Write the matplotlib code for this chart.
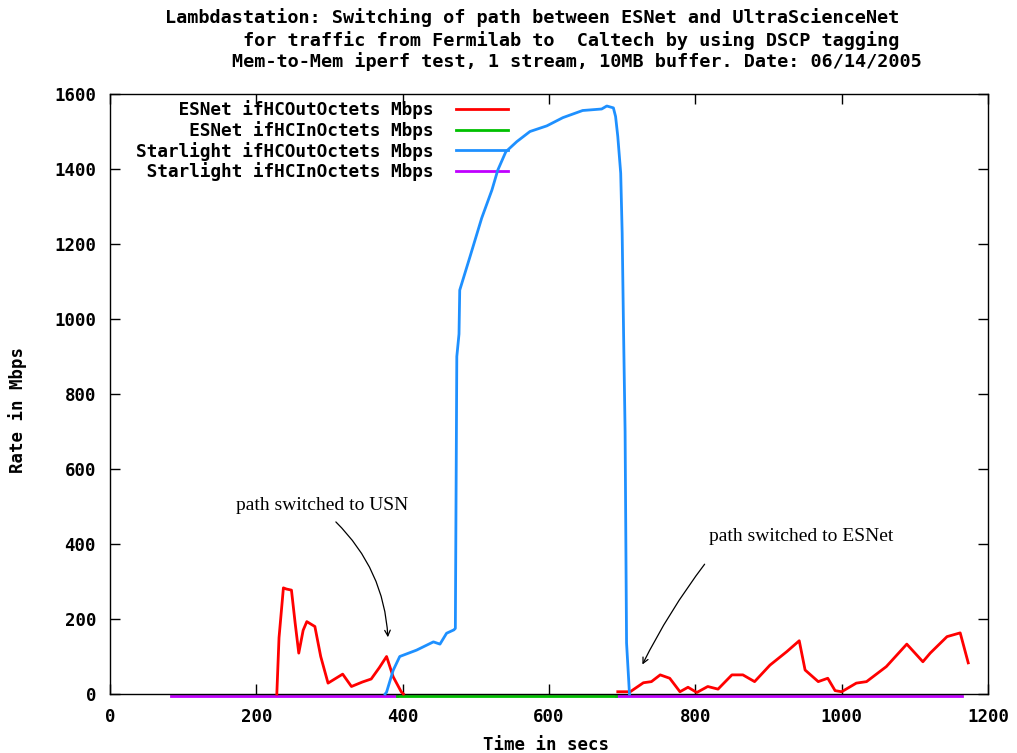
import numpy as np
import matplotlib
matplotlib.use("Agg")
import matplotlib.pyplot as plt
import matplotlib.transforms as mtransforms

# Values (time in secs, rate in Mbps)
# nan marks the stretch where a counter sits at zero under the other traces
esnet_out_t = [228, 231, 237, 241, 248, 253, 258, 264, 269, 280, 288, 298, 318, 330, 345, 357,
               368, 378, 387, 398, 401, 550, 694, 696, 711, 720, 729, 740, 752, 765, 779, 790,
               802, 817, 831, 850, 865, 881, 902, 925, 942, 950, 968, 981, 991, 1000, 1020,
               1034, 1061, 1089, 1111, 1121, 1144, 1162, 1173]
esnet_out_v = [0, 150, 283, 280, 277, 190, 109, 170, 193, 180, 100, 29, 53, 20, 32, 40,
               70, 100, 46, 6, 0, np.nan, 6, 6, 6, 18, 30, 33, 51, 42, 6, 18,
               4, 20, 13, 51, 51, 33, 77, 113, 142, 64, 33, 42, 9, 6, 29,
               33, 73, 133, 86, 109, 153, 163, 83]

esnet_in_t = [392, 692]
esnet_in_v = [0, 0]

star_out_t = [376, 378, 387, 396, 419, 442, 451, 460, 470, 472, 474, 477, 478, 492, 508, 522,
              530, 541, 556, 574, 597, 619, 646, 672, 679, 688, 691, 694, 698, 700, 702, 704,
              706, 710]
star_out_v = [0, 5, 63, 100, 117, 139, 133, 162, 171, 175, 900, 960, 1077, 1166, 1269, 1344,
              1397, 1446, 1473, 1500, 1515, 1537, 1556, 1560, 1568, 1563, 1540, 1487, 1389, 1229,
              953, 700, 136, 0]

star_in_t = [83, 392, 550, 692, 1164]
star_in_v = [0, 0, np.nan, 0, 0]

labels = ["ESNet ifHCOutOctets Mbps", "ESNet ifHCInOctets Mbps",
          "Starlight ifHCOutOctets Mbps", "Starlight ifHCInOctets Mbps"]

title_lines = ["Lambdastation: Switching of path between ESNet and UltraScienceNet",
               "for traffic from Fermilab to  Caltech by using DSCP tagging",
               "Mem-to-Mem iperf test, 1 stream, 10MB buffer. Date: 06/14/2005"]

MONO = "DejaVu Sans Mono"

fig = plt.figure(figsize=(10.17, 7.53), dpi=100)
ax = fig.add_axes([110 / 1017, 1 - 694 / 753, 878 / 1017, 600 / 753])

# the flat zero lines sit just under the x axis, as gnuplot drew them
below = mtransforms.offset_copy(ax.transData, fig=fig, y=-2, units="dots")

width = 2.0
w = max(len(s) for s in labels)
ax.plot(esnet_out_t, esnet_out_v, color="#ff0000", lw=width, label=labels[0].rjust(w),
        zorder=4, clip_on=False)
ax.plot(esnet_in_t, esnet_in_v, color="#00c000", lw=width, label=labels[1].rjust(w),
        zorder=2.2, clip_on=False, transform=below)
ax.plot(star_out_t, star_out_v, color="#1e90ff", lw=width, label=labels[2].rjust(w),
        zorder=6, clip_on=False)
ax.plot(star_in_t, star_in_v, color="#c000ff", lw=width, label=labels[3].rjust(w),
        zorder=2.1, clip_on=False, transform=below)

ax.set_xlim(0, 1200)
ax.set_ylim(0, 1600)
ax.set_xticks(np.arange(0, 1201, 200))
ax.set_yticks(np.arange(0, 1601, 200))
ax.tick_params(direction="in", length=7, width=1, top=True, right=True, pad=10,
               labelsize=12.5)
for lab in ax.get_xticklabels() + ax.get_yticklabels():
    lab.set_fontfamily(MONO)
    lab.set_fontweight("bold")
for sp in ax.spines.values():
    sp.set_linewidth(1.0)

ax.set_xlabel("Time in secs", fontfamily=MONO, fontweight="bold", fontsize=12.5)
ax.set_ylabel("Rate in Mbps", fontfamily=MONO, fontweight="bold", fontsize=12.5)
ax.xaxis.set_label_coords(0.497, -0.07)
ax.yaxis.set_label_coords(-0.094, 0.473)

leg = ax.legend(loc="upper right", bbox_to_anchor=(0.453, 0.99), frameon=False,
                markerfirst=False, handlelength=2.9, handletextpad=1.3,
                labelspacing=0.1, borderpad=0, borderaxespad=0,
                prop={"family": MONO, "weight": "bold", "size": 12.8})

# title, three lines placed like the original
for txt, x, y in zip(title_lines, [165, 243, 232], [18, 41, 62]):
    fig.text(x / 1017, 1 - y / 753, txt, ha="left", va="center", fontfamily=MONO,
             fontweight="bold", fontsize=13.3)

# hand-drawn style annotations
ax.text(290, 504, "path switched to USN", ha="center", va="center",
        fontfamily="Liberation Serif", fontsize=14)
ax.annotate("", xy=(380, 144), xytext=(306, 464),
            arrowprops=dict(arrowstyle="->", lw=0.9, color="black",
                            connectionstyle="arc3,rad=-0.2"))
ax.text(944, 419, "path switched to ESNet", ha="center", va="center",
        fontfamily="Liberation Serif", fontsize=14)
ax.annotate("", xy=(726, 72), xytext=(815, 352),
            arrowprops=dict(arrowstyle="->", lw=0.9, color="black",
                            connectionstyle="arc3,rad=0.05"))

fig.savefig("out.png", dpi=100)
